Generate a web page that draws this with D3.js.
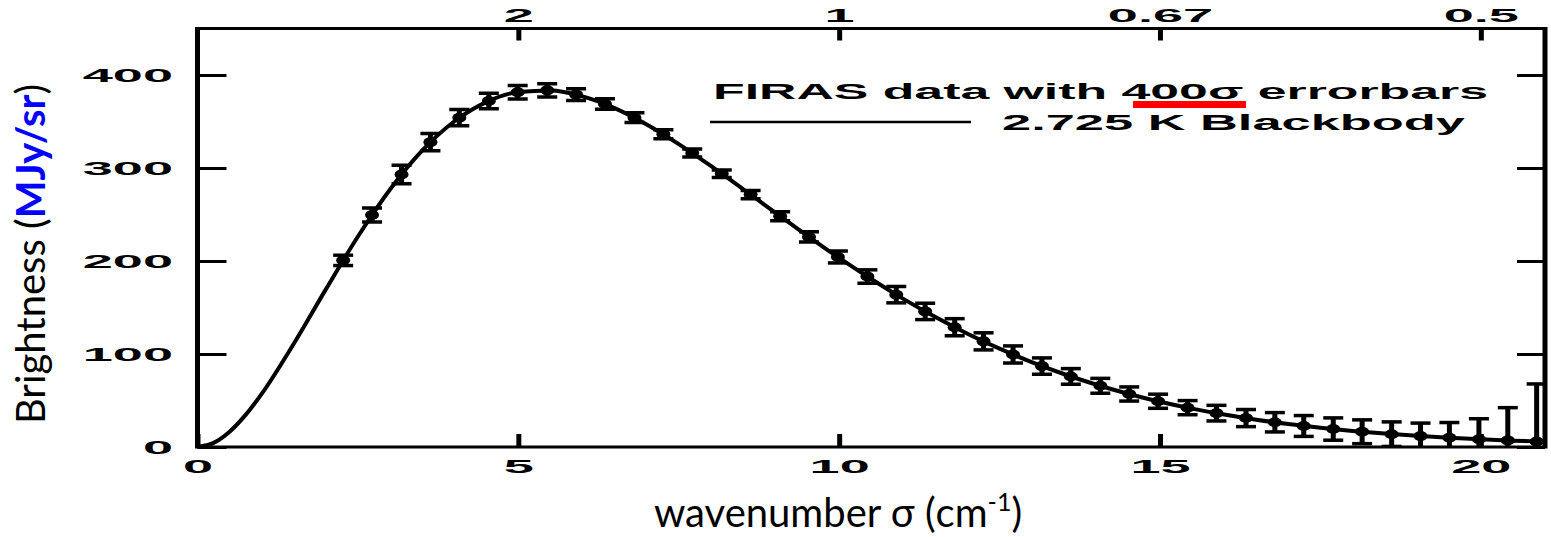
<!DOCTYPE html>
<html>
<head>
<meta charset="utf-8">
<script src="https://cdn.jsdelivr.net/npm/d3@7"></script>
<style>
  html, body { margin: 0; padding: 0; background: #fff; }
  svg { display: block; }
</style>
</head>
<body>
<svg id="chart" width="1551" height="537"></svg>
<script>
// ---- Data ----
// FIRAS measurements: wavenumber (cm^-1), brightness (MJy/sr), 400-sigma error (MJy/sr)
const wavenumbers = [2.27, 2.72, 3.18, 3.63, 4.08, 4.54, 4.99, 5.45, 5.90, 6.35, 6.81, 7.26, 7.71, 8.17, 8.62, 9.08, 9.53, 9.98, 10.44, 10.89, 11.34, 11.80, 12.25, 12.71, 13.16, 13.61, 14.07, 14.52, 14.97, 15.43, 15.88, 16.34, 16.79, 17.24, 17.70, 18.15, 18.61, 19.06, 19.51, 19.97, 20.42, 20.87, 21.33];
const brightness = [200.7, 249.5, 293.0, 327.8, 354.1, 372.1, 381.5, 383.5, 378.9, 368.8, 354.1, 336.3, 316.1, 293.9, 271.4, 248.2, 225.9, 204.3, 183.3, 163.8, 145.8, 128.8, 113.6, 99.5, 87.0, 75.9, 65.8, 57.0, 49.2, 42.3, 36.4, 31.1, 26.6, 22.6, 19.3, 16.4, 13.8, 11.7, 9.9, 8.4, 7.1, 5.8, 4.5];
const errors400 = [5.6, 7.6, 10.0, 9.2, 8.8, 8.4, 7.2, 7.2, 6.4, 5.6, 5.2, 4.8, 4.4, 4.0, 4.4, 4.8, 5.6, 6.4, 7.2, 8.8, 8.8, 9.2, 9.2, 9.2, 8.8, 8.4, 8.0, 7.6, 7.6, 7.6, 8.4, 9.2, 10.4, 11.2, 12.0, 12.8, 13.2, 14.0, 16.4, 22.0, 35.2, 62.0, 112.8];

// 2.725 K blackbody curve samples
const bbWavenumber = [0, 0.25, 0.5, 0.75, 1, 1.5, 2, 2.5, 3, 3.5, 4, 4.5, 5, 5.5, 6, 6.5, 7, 7.5, 8, 8.5, 9, 9.5, 10, 10.5, 11, 11.5, 12, 12.5, 13, 13.5, 14, 14.5, 15, 15.5, 16, 16.5, 17, 17.5, 18, 18.5, 19, 19.5, 20, 20.5, 21];
const bbBrightness = [0, 4.4, 16.4, 34.5, 57.1, 111.0, 169.5, 226.3, 276.9, 318.6, 350.0, 370.9, 381.6, 383.3, 377.0, 364.4, 346.8, 325.7, 302.2, 277.4, 252.2, 227.4, 203.3, 180.6, 159.3, 139.7, 121.8, 105.7, 91.3, 78.5, 67.2, 57.3, 48.7, 41.3, 34.9, 29.4, 24.7, 20.7, 17.3, 14.4, 12.0, 9.95, 8.24, 6.82, 5.63];

// Axis ticks
const xTicks = [0, 5, 10, 15, 20];
const yTicks = [0, 100, 200, 300, 400];
const topTickLabels = ["2", "1", "0.67", "0.5"];
const topTickWavelengthMM = [2, 1, 0.6667, 0.5];

// Texts
const legendLabel1 = "FIRAS data with 400σ errorbars";
const legendLabel2 = "2.725 K Blackbody";

// ---- Drawing ----
const svg = d3.select("#chart");
svg.append("rect").attr("width", 1551).attr("height", 537).attr("fill", "#fff");

const x = d3.scaleLinear().domain([0, 21]).range([197.5, 1545]);
const y = d3.scaleLinear().domain([0, 450]).range([447, 28.5]);

const tickFont = "'Liberation Sans', Arial, Helvetica, sans-serif";
const stretch = 2.85;

svg.append("defs").append("clipPath").attr("id", "plotclip")
  .append("rect")
  .attr("x", x(0)).attr("y", y(450))
  .attr("width", x(21) - x(0)).attr("height", y(0) - y(450));

// Blackbody curve
const line = d3.line()
  .x((d, i) => x(bbWavenumber[i]))
  .y(d => y(d))
  .curve(d3.curveMonotoneX);
svg.append("path")
  .datum(bbBrightness)
  .attr("clip-path", "url(#plotclip)")
  .attr("d", line)
  .attr("fill", "none")
  .attr("stroke", "#000")
  .attr("stroke-width", 4);

// Error bars and markers
const pts = wavenumbers.map((w, i) => ({ w, b: brightness[i], e: errors400[i] }));
const gPts = svg.append("g").attr("clip-path", "url(#plotclip)");
const capHalf = 10;
gPts.selectAll("line.eb").data(pts).join("line")
  .attr("class", "eb")
  .attr("x1", d => x(d.w)).attr("x2", d => x(d.w))
  .attr("y1", d => y(d.b - d.e)).attr("y2", d => y(d.b + d.e))
  .attr("stroke", "#000").attr("stroke-width", 5);
gPts.selectAll("line.capT").data(pts).join("line")
  .attr("class", "capT")
  .attr("x1", d => x(d.w) - capHalf).attr("x2", d => x(d.w) + capHalf)
  .attr("y1", d => y(d.b + d.e)).attr("y2", d => y(d.b + d.e))
  .attr("stroke", "#000").attr("stroke-width", 3.5);
gPts.selectAll("line.capB").data(pts).join("line")
  .attr("class", "capB")
  .attr("x1", d => x(d.w) - capHalf).attr("x2", d => x(d.w) + capHalf)
  .attr("y1", d => y(d.b - d.e)).attr("y2", d => y(d.b - d.e))
  .attr("stroke", "#000").attr("stroke-width", 3.5);
gPts.selectAll("ellipse").data(pts).join("ellipse")
  .attr("cx", d => x(d.w)).attr("cy", d => y(d.b))
  .attr("rx", 7).attr("ry", 5)
  .attr("fill", "#000");

// Axes
function styleAxis(g, tickW) {
  g.select(".domain").remove();
  g.selectAll(".tick line").attr("stroke", "#000").attr("stroke-width", tickW);
  g.selectAll(".tick text")
    .attr("fill", "#000")
    .style("font-family", tickFont)
    .style("font-weight", "bold")
    .style("font-size", "19px");
}

const gBottom = svg.append("g").attr("transform", `translate(0,${y(0)})`)
  .call(d3.axisBottom(x).tickValues(xTicks).tickFormat(d3.format("d")).tickSize(-13).tickPadding(13));
styleAxis(gBottom, 5);
gBottom.selectAll(".tick text").attr("transform", `scale(${stretch},1)`);

const gTop = svg.append("g").attr("transform", `translate(0,${y(450)})`)
  .call(d3.axisTop(x).tickValues(topTickWavelengthMM.map(l => 10 / l))
    .tickFormat((d, i) => topTickLabels[i]).tickSize(-12).tickPadding(7));
styleAxis(gTop, 5);
gTop.selectAll(".tick text").attr("transform", `scale(${stretch},1)`);

const gLeft = svg.append("g").attr("transform", `translate(${x(0)},0)`)
  .call(d3.axisLeft(y).tickValues(yTicks).tickFormat(d3.format("d")).tickSize(-29).tickPadding(8.6));
styleAxis(gLeft, 3);
gLeft.selectAll(".tick text").attr("transform", `scale(${stretch},1)`);

const gRight = svg.append("g").attr("transform", `translate(${x(21)},0)`)
  .call(d3.axisRight(y).tickValues(yTicks).tickFormat("").tickSize(-28));
styleAxis(gRight, 3);

// Frame
svg.append("line").attr("x1", x(0)).attr("x2", x(21)).attr("y1", y(0)).attr("y2", y(0))
  .attr("stroke", "#000").attr("stroke-width", 3);
svg.append("line").attr("x1", x(0)).attr("x2", x(21)).attr("y1", y(450)).attr("y2", y(450))
  .attr("stroke", "#000").attr("stroke-width", 3);
svg.append("line").attr("x1", x(0)).attr("x2", x(0)).attr("y1", y(450) - 1.5).attr("y2", y(0) + 1.5)
  .attr("stroke", "#000").attr("stroke-width", 5);
svg.append("line").attr("x1", x(21)).attr("x2", x(21)).attr("y1", y(450) - 1.5).attr("y2", y(0) + 1.5)
  .attr("stroke", "#000").attr("stroke-width", 5);

// Legend
const legend = svg.append("g");
legend.append("text")
  .attr("x", 713).attr("y", 99)
  .attr("textLength", 775).attr("lengthAdjust", "spacingAndGlyphs")
  .style("font-family", tickFont).style("font-weight", "bold").style("font-size", "22px")
  .attr("fill", "#000")
  .text(legendLabel1);
legend.append("rect")
  .attr("x", 1133).attr("y", 101).attr("width", 113).attr("height", 7)
  .attr("fill", "#ff0000");
legend.append("line")
  .attr("x1", 710).attr("x2", 971).attr("y1", 122).attr("y2", 122)
  .attr("stroke", "#000").attr("stroke-width", 2.5);
legend.append("text")
  .attr("x", 1002).attr("y", 130)
  .attr("textLength", 463).attr("lengthAdjust", "spacingAndGlyphs")
  .style("font-family", tickFont).style("font-weight", "bold").style("font-size", "22px")
  .attr("fill", "#000")
  .text(legendLabel2);

// Axis titles
const titleFont = "Lato, 'Open Sans', sans-serif";
const xTitle = svg.append("text")
  .attr("x", 838).attr("y", 527)
  .attr("text-anchor", "middle")
  .style("font-family", titleFont).style("font-size", "40px")
  .attr("fill", "#000");
xTitle.append("tspan").text("wavenumber σ (cm");
xTitle.append("tspan").attr("dy", -16).style("font-size", "25px").text("-1");
xTitle.append("tspan").attr("dy", 16).text(")");

const yTitle = svg.append("text")
  .attr("transform", "translate(45,254) rotate(-90)")
  .attr("text-anchor", "middle")
  .style("font-family", titleFont).style("font-size", "40px")
  .attr("fill", "#000");
yTitle.append("tspan").text("Brightness (");
yTitle.append("tspan").attr("fill", "#0000ff").style("font-weight", "bold").text("MJy/sr");
yTitle.append("tspan").text(")");
</script>
</body>
</html>
